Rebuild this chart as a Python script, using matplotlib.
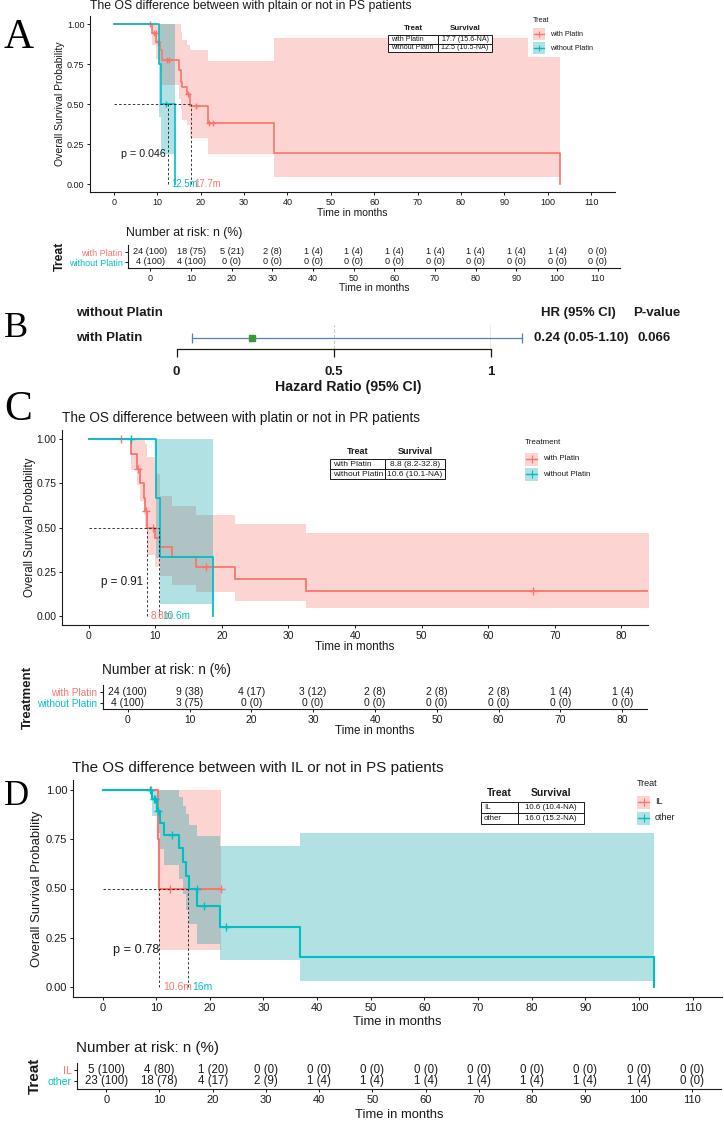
import numpy as np
import matplotlib
matplotlib.use('Agg')
import matplotlib.pyplot as plt
from matplotlib.patches import Rectangle
from matplotlib.ticker import StrMethodFormatter

plt.rcParams['font.family'] = ['Liberation Sans', 'DejaVu Sans']

RED = '#F8766D'
TEAL = '#00BFC4'
RED_FILL = '#F8766D'
TEAL_FILL = '#009CA8'
INK = '#1a1a1a'

# ---------------- data ----------------
# A: platin vs no platin, PS patients
a_with_t = [0, 8.8, 9.8, 10.6, 11.2, 15.1, 15.4, 15.8, 16.9, 17.5, 21.8, 37.0, 102.9]
a_with_s = [1, .944, .887, .840, .776, .710, .640, .605, .560, .488, .384, .192, 0]
a_with_lo = [1, .870, .780, .700, .620, .530, .460, .400, .370, .290, .190, .045, .045]
a_with_hi = [1, 1, 1, 1, 1, 1, .950, .900, .870, .840, .770, .910, .910]
a_with_cens = [8.4, 9.3, 9.6, 10.2, 12.2, 12.6, 17.2, 18.9, 21.9, 22.8]
a_wo_t = [0, 10.3, 10.8, 14.2]
a_wo_s = [1, .75, .50, 0]
a_wo_lo = [1, .42, .19, .19]
a_wo_hi = [1, 1, 1, 1]
a_wo_cens = [12.1]
a_groups = ['with Platin', 'without Platin']
a_median = [17.7, 12.5]
a_median_lab = ['17.7m', '12.5m']
a_median_txt = ['17.7 (15.6-NA)', '12.5 (10.5-NA)']
a_pval = 'p = 0.046'
a_risk_t = list(range(0, 111, 10))
a_risk_with_n = [24, 18, 5, 2, 1, 1, 1, 1, 1, 1, 1, 0]
a_risk_with_pct = [100, 75, 21, 8, 4, 4, 4, 4, 4, 4, 4, 0]
a_risk_wo_n = [4, 4, 0, 0, 0, 0, 0, 0, 0, 0, 0, 0]
a_risk_wo_pct = [100, 100, 0, 0, 0, 0, 0, 0, 0, 0, 0, 0]

# B: hazard ratio
b_rows = ['without Platin', 'with Platin']
b_hr, b_lo, b_hi = 0.24, 0.05, 1.10
b_hr_txt = '0.24 (0.05-1.10)'
b_p = '0.066'
b_ticks = [0, 0.5, 1]

# C: platin vs no platin, PR patients
c_with_t = [0, 6.3, 7.25, 7.75, 8.25, 8.5, 8.75, 10.0, 10.65, 12.5, 16.15, 22.0, 32.7, 90]
c_with_s = [1, .915, .83, .75, .665, .595, .50, .44, .39, .335, .28, .21, .14, .14]
c_with_lo = [1, .825, .74, .65, .57, .50, .345, .28, .225, .175, .135, .085, .045, .045]
c_with_hi = [1, 1, 1, 1, 1, .97, .90, .80, .675, .62, .57, .52, .47, .47]
c_with_cens = [4.9, 7.4, 8.6, 9.65, 17.6, 66.8]
c_wo_t = [0, 10.1, 10.65, 18.65]
c_wo_s = [1, .667, .333, 0]
c_wo_lo = [1, .33, .07, .07]
c_wo_hi = [1, 1, 1, 1]
c_wo_cens = [6.3]
c_median = [8.8, 10.6]
c_median_lab = ['8.8m', '10.6m']
c_median_txt = ['8.8 (8.2-32.8)', '10.6 (10.1-NA)']
c_pval = 'p = 0.91'
c_risk_t = list(range(0, 81, 10))
c_risk_with_n = [24, 9, 4, 3, 2, 2, 2, 1, 1]
c_risk_with_pct = [100, 38, 17, 12, 8, 8, 8, 4, 4]
c_risk_wo_n = [4, 3, 0, 0, 0, 0, 0, 0, 0]
c_risk_wo_pct = [100, 75, 0, 0, 0, 0, 0, 0, 0]

# D: IL vs other, PS patients
d_il_t = [0, 10.4, 10.6, 22.0]
d_il_s = [1, .75, .50, .50]
d_il_lo = [1, .44, .19, .19]
d_il_hi = [1, 1, 1, 1]
d_il_cens = [9.0, 12.6, 22.0]
d_ot_t = [0, 9.2, 10.1, 10.8, 11.4, 14.2, 15.1, 15.6, 16.2, 17.7, 21.9, 36.9, 102.9]
d_ot_s = [1, .953, .895, .834, .770, .707, .636, .565, .496, .413, .306, .151, 0]
d_ot_lo = [1, .865, .780, .700, .620, .550, .470, .390, .320, .220, .137, .032, .032]
d_ot_hi = [1, 1, 1, 1, 1, .966, .920, .880, .820, .768, .717, .780, .780]
d_ot_cens = [8.8, 9.65, 9.8, 10.3, 12.9, 17.6, 18.9, 23.0]
d_groups = ['IL', 'other']
d_median = [10.6, 16.0]
d_median_lab = ['10.6m', '16m']
d_median_txt = ['10.6 (10.4-NA)', '16.0 (15.2-NA)']
d_pval = 'p = 0.78'
d_risk_t = list(range(0, 111, 10))
d_risk_il_n = [5, 4, 1, 0, 0, 0, 0, 0, 0, 0, 0, 0]
d_risk_il_pct = [100, 80, 20, 0, 0, 0, 0, 0, 0, 0, 0, 0]
d_risk_ot_n = [23, 18, 4, 2, 1, 1, 1, 1, 1, 1, 1, 0]
d_risk_ot_pct = [100, 78, 17, 9, 4, 4, 4, 4, 4, 4, 4, 0]

SZ_A = dict(title=8.8, tick=6.5, axlab=7.5, pval=7.7, med=6.9, leg=5.2, th=5.7, tc=5.1,
            risk=6.6, head=8.8, rowlab=6.5, treat=8.8, lw=1.2, ms=5)
SZ_C = dict(title=9.8, tick=7.4, axlab=8.4, pval=8.4, med=7.2, leg=5.8, th=6.5, tc=6.0,
            risk=7.5, head=9.8, rowlab=7.2, treat=9.5, lw=1.3, ms=5.5)
SZ_D = dict(title=10.9, tick=8.0, axlab=9.4, pval=9.2, med=7.5, leg=6.5, th=7.5, tc=5.7,
            risk=8.3, head=10.9, rowlab=7.6, treat=11, lw=1.5, ms=6)

# ---------------- layout helpers (pixels) ----------------
W, H = 724, 1121
fig = plt.figure(figsize=(W / 100, H / 100), dpi=100)
ov = fig.add_axes([0, 0, 1, 1], zorder=10)
ov.set_xlim(0, W)
ov.set_ylim(H, 0)
ov.axis('off')


def add_ax(l, t, r, b):
    return fig.add_axes([l / W, 1 - b / H, (r - l) / W, (b - t) / H])


def frac_x(ax, x):
    p = ax.get_position()
    return (x / W - p.x0) / p.width


def frac_y(ax, y):
    p = ax.get_position()
    return ((1 - y / H) - p.y0) / p.height


def base_style(ax, fs):
    for s in ('top', 'right'):
        ax.spines[s].set_visible(False)
    for s in ('left', 'bottom'):
        ax.spines[s].set_linewidth(0.8)
        ax.spines[s].set_color(INK)
    ax.tick_params(labelsize=fs, length=2.2, width=0.7, pad=1.8, colors=INK)
    ax.patch.set_alpha(0)


def surv_at(t, s, x):
    return s[np.searchsorted(t, x, side='right') - 1]


def km_panel(box, xlim, xticks, curves, medians, med_labels, pval, pval_xy, sz,
             ylab_x, xlab_y):
    ax = add_ax(*box)
    base_style(ax, sz['tick'])
    for t, s, lo, hi, cens, col, fill in curves:
        ax.fill_between(t, lo, hi, step='post', color=fill, alpha=0.3, lw=0)
    for t, s, lo, hi, cens, col, fill in curves:
        ax.step(t, s, where='post', color=col, lw=sz['lw'])
        ax.plot(cens, [surv_at(t, s, c) for c in cens], ls='none', marker='+',
                color=col, ms=sz['ms'], mew=1)
    dash = dict(color=INK, lw=0.6, ls=(0, (3, 2.5)))
    ax.plot([0, max(medians)], [0.5, 0.5], **dash)
    for m, lab, cv in zip(medians, med_labels, curves):
        ax.plot([m, m], [0, 0.5], **dash)
        ax.annotate(lab, (m, 0), xytext=(2.5, 0), textcoords='offset points',
                    ha='left', va='center', color=cv[5], fontsize=sz['med'])
    ax.text(pval_xy[0], pval_xy[1], pval, fontsize=sz['pval'], va='center', color=INK)
    ax.set_xlim(*xlim)
    ax.set_ylim(-0.05, 1.05)
    ax.set_xticks(xticks)
    ax.set_yticks([0, .25, .5, .75, 1])
    ax.yaxis.set_major_formatter(StrMethodFormatter('{x:.2f}'))
    ax.set_xlabel('Time in months', fontsize=sz['axlab'], va='center', color=INK)
    ax.xaxis.set_label_coords(0.5, frac_y(ax, xlab_y))
    ax.set_ylabel('Overall Survival Probability', fontsize=sz['axlab'], va='center', color=INK)
    ax.yaxis.set_label_coords(frac_x(ax, ylab_x), 0.5)
    return ax


def risk_panel(box, xlim, times, rows, labels, colors, row0, step, sz,
               head_xy, ylab, ylab_x, xlab_y):
    l, t, r, b = box
    ax = add_ax(l, t, r, b)
    base_style(ax, sz['tick'])
    for i, (n, pct) in enumerate(rows):
        for x, nn, pp in zip(times, n, pct):
            ax.text(x, i, f'{nn} ({pp})', ha='center', va='center',
                    fontsize=sz['risk'], color=INK)
    ax.set_xlim(*xlim)
    ax.set_ylim((b - row0) / step, (t - row0) / step)
    ax.set_xticks(times)
    ax.set_yticks(range(len(labels)))
    ax.set_yticklabels(labels, fontsize=sz['rowlab'])
    for tl, c in zip(ax.get_yticklabels(), colors):
        tl.set_color(c)
    ax.set_xlabel('Time in months', fontsize=sz['axlab'], va='center', color=INK)
    ax.xaxis.set_label_coords(0.5, frac_y(ax, xlab_y))
    ax.set_ylabel(ylab, fontsize=sz['treat'], fontweight='bold', va='center', color=INK)
    ax.yaxis.set_label_coords(frac_x(ax, ylab_x), 0.5)
    ov.text(head_xy[0], head_xy[1], 'Number at risk: n (%)', fontsize=sz['head'],
            va='center', color=INK)
    return ax


def legend_px(x, y, title, labels, colors, fills, fs, gap, step, key, bg_w):
    ov.add_patch(Rectangle((x - 5, y - 7), bg_w, gap + step * (len(labels) - 1) + key / 2 + 10,
                           fc='white', ec='none'))
    ov.text(x, y, title, fontsize=fs, va='center', color=INK)
    for i, (lab, col, fill) in enumerate(zip(labels, colors, fills)):
        yy = y + gap + step * i
        ov.add_patch(Rectangle((x, yy - key / 2), key, key, fc=fill, alpha=0.3, lw=0))
        ov.plot([x + 1, x + key - 1], [yy, yy], color=col, lw=1)
        ov.plot(x + key / 2, yy, marker='+', color=col, ms=key * 0.4, mew=0.8)
        ov.text(x + key + 5, yy, lab, fontsize=fs, va='center', color=INK)


def table_px(x0, xdiv, x1, y0, rowh, head_y, groups, vals, fs_h, fs_c):
    ov.text((x0 + xdiv) / 2, head_y, 'Treat', fontsize=fs_h, fontweight='bold',
            ha='center', va='center', color=INK)
    ov.text((xdiv + x1) / 2, head_y, 'Survival', fontsize=fs_h, fontweight='bold',
            ha='center', va='center', color=INK)
    for i, (g, v) in enumerate(zip(groups, vals)):
        yt = y0 + i * rowh
        ov.add_patch(Rectangle((x0, yt), xdiv - x0, rowh, fc='white', ec=INK, lw=0.7))
        ov.add_patch(Rectangle((xdiv, yt), x1 - xdiv, rowh, fc='white', ec=INK, lw=0.7))
        ov.text(x0 + 3, yt + rowh / 2, g, fontsize=fs_c, va='center', color=INK)
        ov.text((xdiv + x1) / 2, yt + rowh / 2, v, fontsize=fs_c, ha='center',
                va='center', color=INK)


def letter(x, y, s, fs):
    ov.text(x, y, s, fontsize=fs, fontfamily='Liberation Serif', va='baseline', color='black')


# ---------------- panel A ----------------
letter(4, 48, 'A', 30)
ov.text(90.5, 9.3, 'The OS difference between with pltain or not in PS patients',
        fontsize=SZ_A['title'], va='baseline', color=INK)
km_panel((90, 16, 615, 192), (-5.5, 115.5), a_risk_t,
         [(a_with_t, a_with_s, a_with_lo, a_with_hi, a_with_cens, RED, RED_FILL),
          (a_wo_t, a_wo_s, a_wo_lo, a_wo_hi, a_wo_cens, TEAL, TEAL_FILL)],
         a_median, a_median_lab, a_pval, (1.7, 0.19), SZ_A, 60, 212.7)
legend_px(533, 20, 'Treat', a_groups, [RED, TEAL], [RED_FILL, TEAL_FILL],
          SZ_A['leg'], 14, 14, 12, 70)
table_px(388, 438, 492, 35, 8.5, 28, a_groups, a_median_txt, SZ_A['th'], SZ_A['tc'])
risk_panel((128, 245, 620, 268), (-5.5, 115.5), a_risk_t,
           [(a_risk_with_n, a_risk_with_pct), (a_risk_wo_n, a_risk_wo_pct)],
           a_groups, [RED, TEAL], 252, 10, SZ_A, (126, 233), 'Treat', 60, 288)

# ---------------- panel B ----------------
letter(4, 337, 'B', 26)
bx = add_ax(176.5, 300, 491, 349)
bx.set_xlim(0, 1)
bx.set_ylim(1.44, -0.52)
for s in ('top', 'right', 'left'):
    bx.spines[s].set_visible(False)
bx.spines['bottom'].set_linewidth(0.9)
bx.spines['bottom'].set_color(INK)
bx.patch.set_alpha(0)
bx.set_yticks([])
bx.set_xticks(b_ticks)
bx.set_xticklabels(['0', '0.5', '1'], fontweight='bold', fontsize=9.5)
bx.tick_params(axis='x', length=6, width=0.9, pad=6.5, colors=INK)
r = b_rows.index('with Platin')
bx.axvline(0.5, ymin=0, ymax=0.49, color='#c8c8c8', lw=0.8, ls=(0, (3, 2)))
bx.axvline(1, ymin=0, ymax=0.49, color='#E8743B', lw=1)
bx.plot([b_lo, b_hi], [r, r], color='#5B7DB8', lw=0.9, clip_on=False)
bx.plot([b_lo, b_hi], [r, r], ls='none', marker='|', ms=7, mew=0.9, color='#5B7DB8',
        clip_on=False)
bx.plot([b_hr], [r], ls='none', marker='s', ms=4.5, color='#3A9A3A', clip_on=False)
bx.set_xlabel('Hazard Ratio (95% CI)', fontsize=10.2, fontweight='bold', va='center', color=INK)
bx.xaxis.set_label_coords(frac_x(bx, 348), frac_y(bx, 387))
for i, lab in enumerate(b_rows):
    ov.text(76, 313 + 25 * i, lab, fontsize=9.5, fontweight='bold', va='center', color=INK)
ov.text(578, 313, 'HR (95% CI)', fontsize=9.5, fontweight='bold', ha='center', va='center', color=INK)
ov.text(657, 313, 'P-value', fontsize=9.5, fontweight='bold', ha='center', va='center', color=INK)
ov.text(581, 338, b_hr_txt, fontsize=9.5, fontweight='bold', ha='center', va='center', color=INK)
ov.text(654, 338, b_p, fontsize=9.5, fontweight='bold', ha='center', va='center', color=INK)

# ---------------- panel C ----------------
letter(4, 420, 'C', 30)
ov.text(62, 422.3, 'The OS difference between with platin or not in PR patients',
        fontsize=SZ_C['title'], va='baseline', color=INK)
km_panel((62, 430, 648, 625), (-4, 84), c_risk_t,
         [(c_with_t, c_with_s, c_with_lo, c_with_hi, c_with_cens, RED, RED_FILL),
          (c_wo_t, c_wo_s, c_wo_lo, c_wo_hi, c_wo_cens, TEAL, TEAL_FILL)],
         c_median, c_median_lab, c_pval, (1.9, 0.19), SZ_C, 30, 647)
legend_px(525, 442, 'Treatment', a_groups, [RED, TEAL], [RED_FILL, TEAL_FILL],
          SZ_C['leg'], 17, 15, 13, 80)
table_px(330, 385, 445, 459, 10, 451, a_groups, c_median_txt, SZ_C['th'], SZ_C['tc'])
risk_panel((103, 685, 647, 709), (-4, 84), c_risk_t,
           [(c_risk_with_n, c_risk_with_pct), (c_risk_wo_n, c_risk_wo_pct)],
           a_groups, [RED, TEAL], 691.7, 11, SZ_C, (102, 670), 'Treatment', 28, 731)

# ---------------- panel D ----------------
letter(4, 805, 'D', 25)
ov.text(72, 771.7, 'The OS difference between with IL or not in PS patients',
        fontsize=SZ_D['title'], va='baseline', color=INK)
km_panel((73, 780, 722, 997), (-5.5, 115.5), d_risk_t,
         [(d_il_t, d_il_s, d_il_lo, d_il_hi, d_il_cens, RED, RED_FILL),
          (d_ot_t, d_ot_s, d_ot_lo, d_ot_hi, d_ot_cens, TEAL, TEAL_FILL)],
         d_median, d_median_lab, d_pval, (2.0, 0.19), SZ_D, 37, 1022)
legend_px(637, 783, 'Treat', d_groups, [RED, TEAL], [RED_FILL, TEAL_FILL],
          SZ_D['leg'], 19, 16, 13, 70)
table_px(481, 518, 584, 802, 11, 793, d_groups, d_median_txt, SZ_D['th'], SZ_D['tc'])
risk_panel((77, 1063, 721, 1089), (-5.5, 115.5), d_risk_t,
           [(d_risk_il_n, d_risk_il_pct), (d_risk_ot_n, d_risk_ot_pct)],
           d_groups, [RED, TEAL], 1070, 11, SZ_D, (76, 1048), 'Treat', 35, 1115)

fig.savefig('out.png', dpi=100, facecolor='white')
